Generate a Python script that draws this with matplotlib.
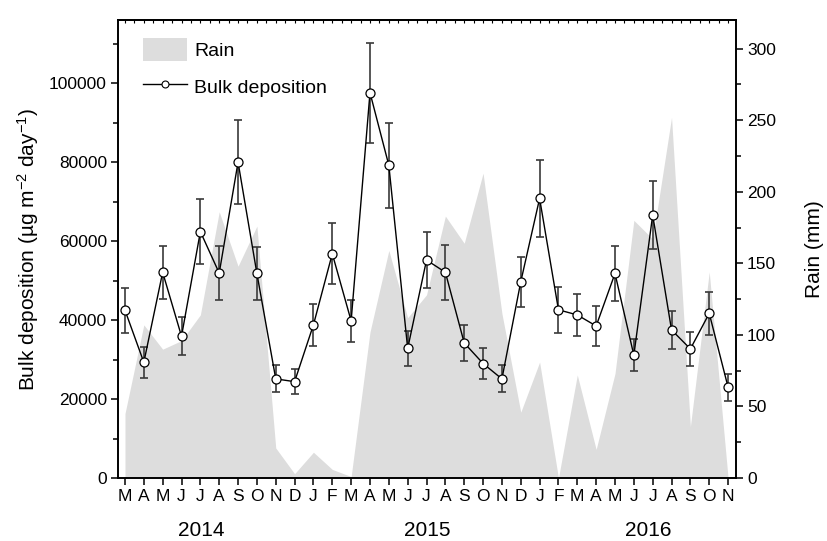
import numpy as np
import matplotlib
matplotlib.use("Agg")
import matplotlib.pyplot as plt
from matplotlib.patches import Patch
from matplotlib.lines import Line2D
from matplotlib.ticker import MultipleLocator
import matplotlib.transforms as mtransforms

plt.rcParams['font.family'] = ['Liberation Sans', 'DejaVu Sans']
plt.rcParams['mathtext.fontset'] = 'custom'
plt.rcParams['mathtext.rm'] = 'Liberation Sans'
plt.rcParams['mathtext.it'] = 'Liberation Sans:italic'
plt.rcParams['mathtext.bf'] = 'Liberation Sans:bold'

months = ['M', 'A', 'M', 'J', 'J', 'A', 'S', 'O', 'N', 'D',
          'J', 'F', 'M', 'A', 'M', 'J', 'J', 'A', 'S', 'O', 'N', 'D',
          'J', 'F', 'M', 'A', 'M', 'J', 'J', 'A', 'S', 'O', 'N']
years = ['2014', '2015', '2016']
year_pos = [4.05, 16.05, 27.75]

deposition = [42500, 29300, 52100, 35900, 62400, 51900, 80000, 51800, 25100, 24400,
              38800, 56800, 39800, 97600, 79200, 32800, 55200, 52100, 34200, 29000, 25100, 49700,
              70800, 42600, 41300, 38500, 51800, 31100, 66600, 37500, 32700, 41700, 23000]
dep_err = [5700, 3900, 6700, 4800, 8300, 6800, 10700, 6800, 3400, 3100,
           5300, 7700, 5300, 12700, 10700, 4400, 7200, 7000, 4500, 3800, 3400, 6400,
           9700, 5800, 5400, 5000, 7000, 4100, 8700, 4900, 4300, 5500, 3400]
rain = [45, 107, 90, 96, 114, 186, 148, 176, 21, 3,
        18, 6, 1, 102, 159, 112, 128, 183, 164, 213, 115, 46,
        81, 0, 72, 20, 73, 180, 167, 252, 36, 144, 0]

x = np.arange(len(months))

fig = plt.figure(figsize=(8.27, 5.41), dpi=100)
ax = fig.add_axes([118/827, 63/541, 618/827, 458/541])
ax2 = ax.twinx()

rain_color = '#dddddd'
ax2.fill_between(x, 0, rain, color=rain_color, lw=0, zorder=1)
ax.set_zorder(ax2.get_zorder() + 1)
ax.patch.set_visible(False)

ax.errorbar(x, deposition, yerr=dep_err, fmt='none', ecolor='#3a3a3a',
            elinewidth=1.2, capsize=2.8, capthick=1.2, zorder=2)
ax.plot(x, deposition, '-', color='black', lw=1.0, marker='o', mfc='white',
        mec='black', ms=6.5, mew=0.9, zorder=3)

ax.set_xlim(-0.37, 32.42)
ax.set_ylim(0, 116000)
ax2.set_ylim(0, 320)

ax.set_xticks(x)
ax.set_xticklabels(months)
ax.set_yticks(np.arange(0, 100001, 20000))
ax.yaxis.set_minor_locator(MultipleLocator(10000))
ax2.set_yticks(np.arange(0, 301, 50))
ax2.yaxis.set_minor_locator(MultipleLocator(25))

for a in (ax, ax2):
    for s in a.spines.values():
        s.set_linewidth(1.2)

ax.tick_params(axis='both', which='major', direction='out', length=5, width=1.1,
               labelsize=12.5, pad=3)
ax.tick_params(axis='y', which='minor', direction='out', length=3.5, width=1.1)
ax.tick_params(axis='x', which='major', labelsize=12.5, pad=3)
ax2.tick_params(axis='y', which='major', direction='out', length=5, width=1.1,
                labelsize=12.5, pad=3)
ax2.tick_params(axis='y', which='minor', direction='out', length=3.5, width=1.1)

sec = ax.secondary_xaxis('top')
sec.set_xticks(np.arange(-0.5, 32.6, 0.5))
sec.tick_params(direction='in', length=2.5, width=0.8, labeltop=False)
sec.spines['top'].set_linewidth(1.2)

ax.set_ylabel(r'Bulk deposition (µg m$^{-2}$ day$^{-1}$)', fontsize=15, labelpad=6)
ax2.set_ylabel('Rain (mm)', fontsize=15, labelpad=21)

trans = mtransforms.blended_transform_factory(ax.transData, fig.transFigure)
for yr, xp in zip(years, year_pos):
    ax.text(xp, (541 - 531) / 541, yr, transform=trans, ha='center', va='center',
            fontsize=15)

handles = [Patch(facecolor=rain_color, edgecolor='none'),
           Line2D([], [], color='black', lw=1.0, marker='o', mfc='white', mec='black',
                  ms=5, mew=0.8)]
ax.legend(handles, ['Rain', 'Bulk deposition'], loc='upper left',
          bbox_to_anchor=(0.04, 0.96), frameon=False, fontsize=14, borderpad=0,
          handlelength=2.3, handleheight=1.45, handletextpad=0.35, labelspacing=0.7,
          borderaxespad=0)

fig.savefig('out.png', dpi=100)
